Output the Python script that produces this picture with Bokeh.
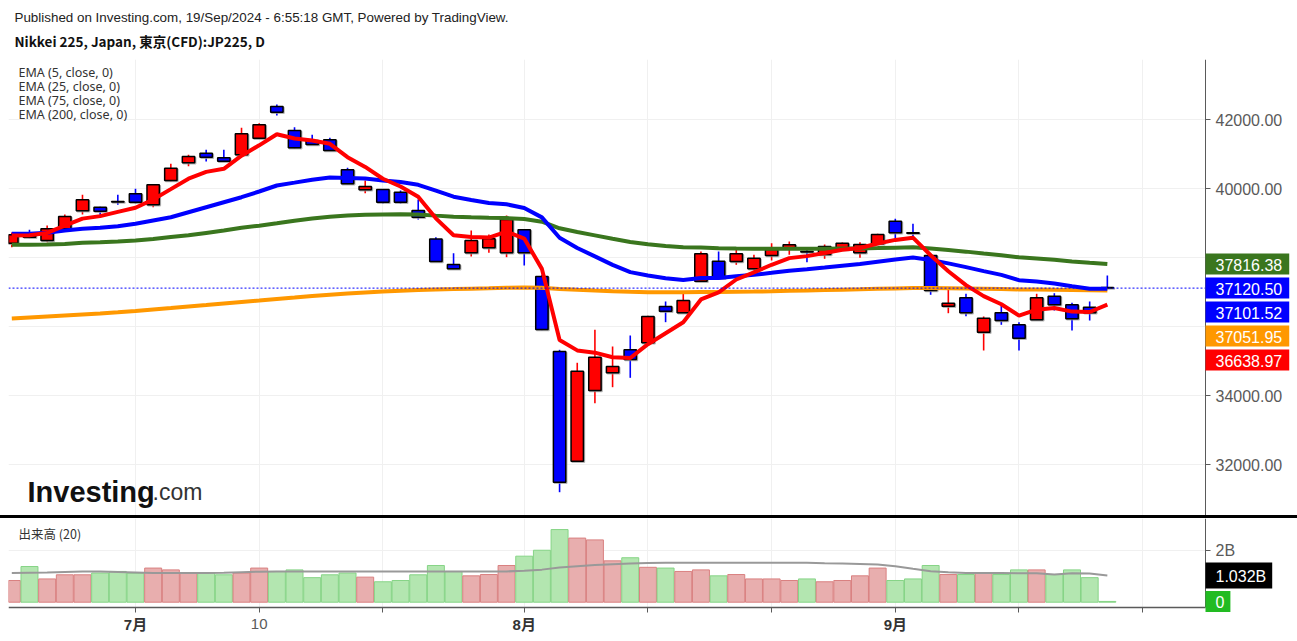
import numpy as np
from bokeh.plotting import figure
from bokeh.models import (Range1d, FixedTicker, Label, ColumnDataSource,
                          NumeralTickFormatter, Spacer)
from bokeh.layouts import column
from bokeh.embed import file_html
from bokeh.resources import INLINE

# ---------------- data ----------------
dates = ["06-20", "06-21", "06-24", "06-25", "06-26", "06-27", "06-28",
         "07-01", "07-02", "07-03", "07-04", "07-05", "07-08", "07-09", "07-10",
         "07-11", "07-12", "07-16", "07-17", "07-18", "07-19", "07-22", "07-23",
         "07-24", "07-25", "07-26", "07-29", "07-30", "07-31",
         "08-01", "08-02", "08-05", "08-06", "08-07", "08-08", "08-09", "08-13",
         "08-14", "08-15", "08-16", "08-19", "08-20", "08-21", "08-22", "08-23",
         "08-26", "08-27", "08-28", "08-29", "08-30",
         "09-02", "09-03", "09-04", "09-05", "09-06", "09-09", "09-10", "09-11",
         "09-12", "09-13", "09-17", "09-18", "09-19"]

opens = [38423, 38645, 38501, 38840, 39362, 39466, 39630, 39855, 39536, 40240,
         40753, 41032, 40898, 40985, 41467, 42386, 41690, 41400, 41420, 40550,
         39971, 39980, 39901, 39371, 38545, 37805, 38145, 38289, 38145, 38811,
         37457, 35283, 32103, 34152, 34665, 35332, 35535, 36588, 36405, 37321,
         37901, 37892, 37680, 38066, 38278, 38180, 38095, 38240, 38145, 38405,
         39061, 38725, 38066, 36596, 36840, 35843, 36405, 36057, 36202, 36886,
         36637, 36567, 37135]
highs = [38733, 38811, 38936, 39255, 39826, 39480, 39826, 40000, 40130, 40724,
         40985, 41130, 41130, 41768, 41901, 42444, 41786, 41565, 41478, 40608,
         40240, 39990, 39950, 39689, 38597, 38133, 38791, 38675, 39226, 38830,
         37505, 35332, 34956, 35912, 35428, 35747, 36320, 36733, 36956, 38182,
         38182, 38260, 38086, 38423, 38472, 38260, 38385, 38440, 38452, 38695,
         39130, 38985, 38115, 37118, 36956, 36298, 36616, 36132, 36956, 36973,
         36695, 36733, 37486]
lows = [38307, 38568, 38452, 38811, 39255, 39226, 39536, 39565, 39466, 40211,
        40655, 40791, 40790, 40965, 41450, 42125, 41170, 41270, 41100, 40130,
        39872, 39565, 39565, 39110, 37880, 37665, 38037, 38145, 38017, 37776,
        35900, 31204, 32090, 33784, 34248, 34520, 35520, 36133, 36400, 37310,
        37370, 37796, 37631, 37921, 38086, 37872, 37970, 38230, 37999, 38400,
        38521, 38617, 36927, 36393, 36306, 35312, 36057, 35312, 36190, 36471,
        35891, 36181, 37090]
closes = [38666, 38596, 38840, 39197, 39681, 39350, 39615, 39611, 40116, 40597,
          40936, 40916, 40800, 41594, 41855, 42220, 41188, 41284, 41110, 40145,
          40066, 39611, 39611, 39176, 37892, 37680, 38501, 38550, 39110, 38145,
          35921, 31494, 34712, 35118, 34848, 35051, 36298, 36451, 36761, 38115,
          37408, 38115, 37988, 38240, 38376, 38165, 38327, 38423, 38385, 38675,
          38724, 38710, 37051, 36683, 36405, 36248, 36181, 35669, 36840, 36637,
          36231, 36405, 37120.50]

ema5 = [38645, 38650, 38720, 38930, 39135, 39207, 39330, 39450, 39690, 39990,
        40292, 40490, 40580, 40960, 41260, 41580, 41456, 41399, 41303, 40917,
        40633, 40292, 40065, 39769, 39143, 38655, 38604, 38586, 38761, 38556,
        37678, 35617, 35315, 35249, 35115, 35094, 35495, 35814, 36130, 36792,
        36997, 37370, 37576, 37797, 37990, 38048, 38141, 38235, 38285, 38415,
        38518, 38582, 38072, 37609, 37208, 36888, 36652, 36324, 36496, 36543,
        36439, 36428, 36638.97]
ema25 = [38695, 38700, 38724, 38791, 38840, 38869, 38915, 38985, 39081, 39176,
         39321, 39466, 39611, 39756, 39921, 40095, 40179, 40264, 40329, 40315,
         40296, 40243, 40194, 40116, 39945, 39771, 39673, 39587, 39550, 39442,
         39171, 38581, 38283, 38040, 37795, 37584, 37485, 37405, 37355, 37413,
         37413, 37467, 37507, 37563, 37626, 37667, 37718, 37772, 37819, 37885,
         37950, 38008, 37934, 37838, 37728, 37614, 37504, 37350, 37310, 37255,
         37175, 37100, 37101.52]
ema75 = [38376, 38378, 38385, 38399, 38434, 38452, 38472, 38501, 38544, 38600,
         38650, 38720, 38790, 38870, 38930, 39000, 39075, 39140, 39190, 39225,
         39245, 39255, 39262, 39258, 39222, 39190, 39172, 39158, 39150, 39125,
         39045, 38855, 38745, 38650, 38550, 38460, 38390, 38340, 38305, 38295,
         38275, 38268, 38262, 38260, 38264, 38262, 38265, 38270, 38272, 38282,
         38294, 38303, 38270, 38228, 38178, 38125, 38075, 38015, 37980, 37940,
         37895, 37855, 37816.38]
ema200 = [36240, 36269, 36298, 36327, 36356, 36385, 36420, 36457, 36501, 36544,
          36588, 36631, 36675, 36718, 36761, 36805, 36848, 36892, 36930, 36964,
          36993, 37022, 37045, 37066, 37080, 37092, 37105, 37117, 37130, 37138,
          37130, 37098, 37070, 37050, 37031, 37014, 37004, 37000, 37000, 37006,
          37008, 37014, 37020, 37030, 37042, 37052, 37063, 37075, 37087, 37100,
          37112, 37124, 37122, 37118, 37110, 37102, 37094, 37082, 37080, 37074,
          37066, 37060, 37051.95]

# volume in billions
volume = [0.84, 1.38, 0.90, 1.06, 1.06, 1.13, 1.19, 1.12, 1.32, 1.25,
          1.13, 1.13, 1.06, 1.13, 1.32, 1.19, 1.25, 0.95, 1.06, 1.13,
          0.97, 0.79, 0.84, 1.06, 1.42, 1.19, 1.02, 1.07, 1.42, 1.78,
          2.01, 2.81, 2.48, 2.41, 1.60, 1.72, 1.35, 1.32, 1.19, 1.25,
          1.02, 1.07, 0.90, 0.90, 0.84, 0.90, 0.79, 0.84, 1.02, 1.32,
          0.84, 0.90, 1.42, 1.07, 1.07, 1.13, 1.07, 1.25, 1.25, 1.07,
          1.25, 0.95, 0.03]
volume_ma = [1.13, 1.14, 1.15, 1.17, 1.19, 1.19, 1.17, 1.15, 1.13, 1.13,
             1.13, 1.13, 1.14, 1.16, 1.18, 1.19, 1.19, 1.19, 1.19, 1.19,
             1.19, 1.19, 1.19, 1.19, 1.19, 1.19, 1.19, 1.19, 1.19, 1.22,
             1.26, 1.34, 1.39, 1.44, 1.47, 1.50, 1.52, 1.53, 1.53, 1.53,
             1.53, 1.53, 1.53, 1.53, 1.53, 1.53, 1.51, 1.50, 1.48, 1.46,
             1.39, 1.29, 1.20, 1.16, 1.13, 1.13, 1.13, 1.12, 1.12, 1.07,
             1.12, 1.11, 1.032]

price_ticks = [32000, 34000, 36000, 38000, 40000, 42000]
hidden_price_labels = [36000, 38000]      # covered by the value tags
x_tick_idx = [7, 14, 21, 29, 36, 43, 50, 57, 64]
month_labels = {7: "7月", 29: "8月", 50: "9月"}
day_labels = {14: "10"}
legend_texts = ["EMA (5, close, 0)", "EMA (25, close, 0)",
                "EMA (75, close, 0)", "EMA (200, close, 0)"]
header_text = "Published on Investing.com, 19/Sep/2024 - 6:55:18 GMT, Powered by TradingView."
title_text = "Nikkei 225, Japan, 東京(CFD):JP225, D"

# ---------------- layout constants ----------------
W = 1297
LEFT = 8
AXIS_PX = 1205                     # page x of the price axis line
HEAD_H, MAIN_H, SEP_H, VOL_H = 59, 456, 3, 123
PX_PER_X = 17.67
X0 = -0.187
X_AX = X0 + (AXIS_PX - LEFT) / PX_PER_X
X_END = X0 + (W - LEFT) / PX_PER_X
PRICE_PER_PX = 28.99
P_HI = 43748.0
P_LO = P_HI - MAIN_H * PRICE_PER_PX
VOL_PX_PER_B = 25.85
VOL_ZERO_PY = 601.7 - 518          # y of volume 0 inside the volume pane
V_HI = VOL_ZERO_PY / VOL_PX_PER_B
V_LO = V_HI - VOL_H / VOL_PX_PER_B


def px2x(px):
    return X0 + (px - LEFT) / PX_PER_X


def py2price(py):          # py: page pixel (main pane starts at HEAD_H)
    return P_HI - (py - HEAD_H) * PRICE_PER_PX


def py2vol(py):            # py: page pixel (volume pane starts at 518)
    return V_HI - (py - 518) / VOL_PX_PER_B


FONT = "Liberation Sans"
AX_COL = "#5a5a5a"
GRID_COL = "#f0f0f0"

idx = np.arange(len(closes))
o = np.array(opens, float)
c = np.array(closes, float)
up = c > o
candle_col = np.where(up, "#ff0000", "#0000ff")
vol_fill = np.where(up, "#e8aeae", "#b3e6b0")
vol_line = np.where(up, "#d98080", "#86d486")

xr = Range1d(X0, X_END)


def style_axis(ax, size="16px"):
    ax.axis_line_color = AX_COL
    ax.major_tick_line_color = AX_COL
    ax.major_tick_out = 5
    ax.major_tick_in = 0
    ax.minor_tick_line_color = None
    ax.major_label_text_font = FONT + ", Noto Sans CJK JP"
    ax.major_label_text_font_size = size
    ax.major_label_text_color = AX_COL
    ax.major_label_standoff = 5


# ---------------- header ----------------
p0 = figure(width=W, height=HEAD_H, x_range=Range1d(0, W), y_range=Range1d(HEAD_H, 0),
            output_backend="svg", toolbar_location=None, min_border=0,
            min_border_left=0, min_border_right=0, min_border_top=0,
            min_border_bottom=0, x_axis_location=None, y_axis_location=None)
p0.outline_line_color = None
p0.grid.visible = False
p0.add_layout(Label(x=6, y=17, text=header_text, text_font=FONT,
                    text_font_size="13.4px", text_color="#222222",
                    text_baseline="middle"))
p0.add_layout(Label(x=6, y=40, text=title_text, text_font="Noto Sans CJK JP",
                    text_font_style="bold", text_font_size="13.5px",
                    text_color="#111111", text_baseline="middle"))

# ---------------- main price pane ----------------
p1 = figure(width=W, height=MAIN_H, x_range=xr, y_range=Range1d(P_LO, P_HI),
            output_backend="svg", toolbar_location=None,
            min_border_left=LEFT, min_border_right=0, min_border_top=0,
            min_border_bottom=0, x_axis_location=None, y_axis_location="right")
p1.outline_line_color = None
p1.xgrid.ticker = FixedTicker(ticks=x_tick_idx)
p1.ygrid.ticker = FixedTicker(ticks=price_ticks)
p1.grid.grid_line_color = GRID_COL
ya = p1.yaxis[0]
ya.fixed_location = X_AX
ya.ticker = FixedTicker(ticks=price_ticks)
ya.formatter = NumeralTickFormatter(format="0.00")
ya.major_label_overrides = {t: "" for t in hidden_price_labels}
style_axis(ya)

src = ColumnDataSource(dict(
    x=idx, top=np.maximum(o, c), bottom=np.minimum(o, c),
    high=highs, low=lows, col=candle_col,
    stop=np.maximum(o, c) - PRICE_PER_PX, sbot=np.minimum(o, c) - PRICE_PER_PX,
    sx=idx + 1.0 / PX_PER_X))

p1.segment(x0="x", y0="high", x1="x", y1="low", line_color="col",
           line_width=1.6, source=src)
p1.vbar(x="sx", width=0.7, top="stop", bottom="sbot", fill_color="#9a9a9a",
        fill_alpha=0.7, line_color="#9a9a9a", line_alpha=0.7, line_width=1.5,
        source=src)
p1.vbar(x="x", width=0.7, top="top", bottom="bottom", fill_color="col",
        line_color="black", line_width=1.5, source=src)

p1.line(idx, ema200, line_color="#ff9800", line_width=4)
p1.line(idx, ema75, line_color="#3a761e", line_width=4)
p1.line(idx, ema25, line_color="#0000ff", line_width=4)
p1.line(idx, ema5, line_color="#ff0000", line_width=4)

# last-price dotted line up to the axis
p1.line([X0, X_AX], [closes[-1], closes[-1]], line_color="#0000ff",
        line_dash="2 2", line_width=1)
# blank panel to the right of the axis (hides grid there)
p1.quad(left=X_AX, right=X_END, bottom=P_LO, top=P_HI, fill_color="white",
        line_color=None)

for k, t in enumerate(legend_texts):
    p1.add_layout(Label(x=px2x(18), y=py2price(72 + 14 * k), text=t,
                        text_font="Noto Sans", text_font_size="12.5px",
                        text_color="#333333", text_baseline="middle"))

p1.add_layout(Label(x=px2x(27), y=py2price(491), text="Investing",
                    text_font=FONT, text_font_style="bold", text_font_size="29px",
                    text_color="#111111", text_baseline="alphabetic"))
p1.add_layout(Label(x=px2x(152), y=py2price(491), text=".com",
                    text_font=FONT, text_font_size="23px",
                    text_color="#333333", text_baseline="alphabetic"))

tags = [(ema75[-1], "#3a761e"), (closes[-1], "#0000ff"), (ema25[-1], "#0000ff"),
        (ema200[-1], "#ff9800"), (ema5[-1], "#ff0000")]
prev_py = None
for val, col in tags:
    py = HEAD_H + (P_HI - val) / PRICE_PER_PX
    if prev_py is not None and py < prev_py + 24:
        py = prev_py + 24
    prev_py = py
    p1.add_layout(Label(x=X_AX, y=py2price(py), x_offset=0, text=f"{val:.2f}",
                        text_font=FONT, text_font_size="16px", text_color="white",
                        text_baseline="middle", background_fill_color=col,
                        padding=dict(left=10, right=7, top=5, bottom=4)))

# ---------------- separator ----------------
sep = Spacer(width=W, height=SEP_H, styles={"background-color": "#000000"})

# ---------------- volume pane ----------------
p2 = figure(width=W, height=VOL_H, x_range=xr, y_range=Range1d(V_LO, V_HI),
            output_backend="svg", toolbar_location=None, min_border=0,
            min_border_left=LEFT, y_axis_location="right")
p2.outline_line_color = None
p2.xgrid.ticker = FixedTicker(ticks=x_tick_idx)
p2.ygrid.ticker = FixedTicker(ticks=[2])
p2.grid.grid_line_color = GRID_COL

vsrc = ColumnDataSource(dict(x=idx, v=volume, f=vol_fill, l=vol_line))
p2.vbar(x="x", width=0.96, top="v", bottom=0, fill_color="f", line_color="l",
        line_width=1, source=vsrc)
p2.line(idx, volume_ma, line_color="#999999", line_width=2)

x_axis_val = py2vol(607)
p2.quad(left=X_AX, right=X_END, bottom=V_LO, top=V_HI, fill_color="white",
        line_color=None)
p2.quad(left=X0, right=X_AX, bottom=V_LO, top=x_axis_val, fill_color="white",
        line_color=None)

va = p2.yaxis[0]
va.fixed_location = X_AX
va.bounds = (x_axis_val, V_HI)
va.ticker = FixedTicker(ticks=[2])
va.major_label_overrides = {2: "2B"}
style_axis(va)

xa = p2.xaxis[0]
xa.fixed_location = x_axis_val
xa.bounds = (X0, X_AX)
xa.ticker = FixedTicker(ticks=x_tick_idx)
xa.major_label_overrides = {t: month_labels.get(t, "") for t in x_tick_idx}
style_axis(xa, "15px")
xa.axis_line_width = 1.5
xa.major_label_text_font_style = "bold"
xa.major_label_text_color = "#333333"
xa.major_label_standoff = 3

for t, lab in day_labels.items():
    p2.add_layout(Label(x=t, y=py2vol(623), text=lab, text_font=FONT,
                        text_font_size="15px", text_color=AX_COL,
                        text_align="center", text_baseline="middle"))

p2.add_layout(Label(x=px2x(18), y=py2vol(533), text="出来高 (20)",
                    text_font="Noto Sans CJK JP", text_font_size="12.5px",
                    text_color="#333333", text_baseline="middle"))

p2.add_layout(Label(x=X_AX, y=volume_ma[-1], x_offset=0, text=f"{volume_ma[-1]:.3f}B",
                    text_font=FONT, text_font_size="16px", text_color="white",
                    text_baseline="middle", background_fill_color="#000000",
                    padding=dict(left=10, right=6, top=5, bottom=4)))
p2.add_layout(Label(x=X_AX, y=volume[-1], x_offset=0, text=f"{volume[-1]:.0f}",
                    text_font=FONT, text_font_size="16px", text_color="white",
                    text_baseline="middle", background_fill_color="#22bb22",
                    padding=dict(left=10, right=6, top=5, bottom=4)))

layout = column(p0, p1, sep, p2, spacing=0)
open("out.html", "w").write(file_html(layout, INLINE))
